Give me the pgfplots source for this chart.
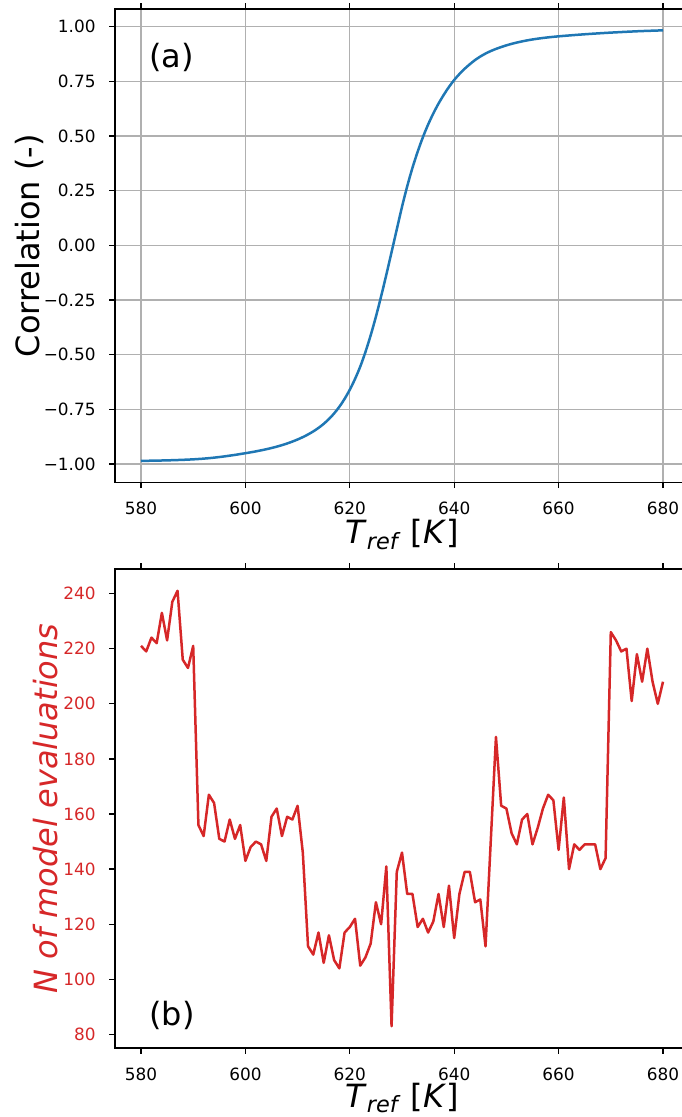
\documentclass[border=0pt]{standalone}
\usepackage{fontspec}
\setmainfont{DejaVu Sans}
\usepackage{pgfplots}
\pgfplotsset{compat=1.18}

\definecolor{tabblue}{HTML}{1F77B4}
\definecolor{tabred}{HTML}{D62728}
\definecolor{gridgray}{HTML}{B0B0B0}

% Correlation between the two responses versus the reference temperature
\pgfplotstableread{
T corr
580 -0.9851
582 -0.9843
584 -0.9833
586 -0.9820
588 -0.9803
590 -0.9780
592 -0.9748
594 -0.9703
596 -0.9645
598 -0.9577
600 -0.9500
601 -0.9460
602 -0.9417
603 -0.9370
604 -0.9319
605 -0.9263
606 -0.9201
607 -0.9132
608 -0.9055
609 -0.8969
610 -0.8873
611 -0.8765
612 -0.8643
613 -0.8504
614 -0.8344
615 -0.8158
616 -0.7940
617 -0.7682
618 -0.7377
619 -0.7017
620 -0.6597
621 -0.6107
622 -0.5542
623 -0.4872
624 -0.4112
625 -0.3262
626 -0.2332
627 -0.1342
628 -0.0312
629 0.0728
630 0.1758
631 0.2698
632 0.3538
633 0.4278
634 0.4938
635 0.5518
636 0.6028
637 0.6478
638 0.6878
639 0.7238
640 0.7558
641 0.7828
642 0.8068
643 0.8278
644 0.8468
645 0.8628
646 0.8763
647 0.8878
648 0.8976
649 0.9061
650 0.9139
651 0.9207
652 0.9267
653 0.9320
654 0.9367
655 0.9408
656 0.9444
657 0.9476
658 0.9504
659 0.9529
660 0.9551
662 0.9591
664 0.9628
666 0.9662
668 0.9693
670 0.9721
673 0.9759
676 0.9792
680 0.9825
}\corrtable

% Number of model evaluations needed at each reference temperature
\pgfplotstableread{
T n
580 221
581 219
582 224
583 222
584 233
585 223
586 237
587 241
588 216
589 213
590 221
591 156
592 152
593 167
594 164
595 151
596 150
597 158
598 151
599 156
600 143
601 148
602 150
603 149
604 143
605 159
606 162
607 152
608 159
609 158
610 163
611 146
612 112
613 109
614 117
615 106
616 116
617 107
618 104
619 117
620 119
621 122
622 105
623 108
624 113
625 128
626 120
627 141
628 83
629 139
630 146
631 131
632 131
633 119
634 122
635 117
636 121
637 131
638 119
639 134
640 115
641 131
642 139
643 139
644 128
645 129
646 112
647 150
648 188
649 163
650 162
651 153
652 149
653 158
654 160
655 149
656 155
657 162
658 167
659 165
660 147
661 166
662 140
663 149
664 147
665 149
666 149
667 149
668 140
669 144
670 226
671 223
672 219
673 220
674 201
675 218
676 208
677 220
678 208
679 200
680 208
}\evaltable

\newcommand{\Tref}{\textit{T}{\fontsize{22.4}{22.4}\selectfont\raisebox{-5.5pt}{\textit{ref}}}\ [\textit{K}]}

\pgfplotsset{
  panel/.style={
    scale only axis,
    width=574.2pt,
    xmin=575, xmax=685,
    xtick={580,600,620,640,660,680},
    xticklabels={580,600,620,640,660,680},
    tick align=outside,
    major tick length=5.8pt,
    every tick/.style={black, line width=1.33pt},
    axis line style={line width=1.33pt, black},
    tick label style={font=\fontsize{16.9}{20}\selectfont, inner sep=0pt},
    xticklabel style={anchor=north, yshift=-14pt},
    yticklabel style={anchor=east, xshift=-13.3pt},
    xlabel={\Tref},
    label style={font=\fontsize{32}{38}\selectfont, inner sep=0pt},
  }
}

\begin{document}
\begin{tikzpicture}
\useasboundingbox (0pt,0pt) rectangle (681pt,-1117pt);

% (a) correlation
\begin{axis}[
  panel,
  at={(114.9pt,-482.3pt)}, anchor=south west,
  height=473.3pt,
  ymin=-1.083, ymax=1.080,
  ytick={-1,-0.75,-0.5,-0.25,0,0.25,0.5,0.75,1},
  yticklabels={−1.00,−0.75,−0.50,−0.25,0.00,0.25,0.50,0.75,1.00},
  grid=major,
  major grid style={gridgray, line width=1.33pt},
  xlabel style={at={(axis description cs:0.5,-0.0782)}, anchor=north},
  ylabel={Correlation (-)},
  ylabel style={at={(axis description cs:-0.1237,0.5)}, anchor=south},
]
\addplot[tabblue, line width=2.5pt, smooth] table[x=T, y=corr] {\corrtable};
\node[anchor=base west, inner sep=0pt, font=\fontsize{32}{38}\selectfont]
  at (axis description cs:0.0594,0.8764) {(a)};
\end{axis}

% (b) number of model evaluations
\begin{axis}[
  panel,
  at={(114.9pt,-1048pt)}, anchor=south west,
  height=479pt,
  ymin=75.1, ymax=248.9,
  ytick={80,100,120,140,160,180,200,220,240},
  yticklabels={80,100,120,140,160,180,200,220,240},
  yticklabel style={text=tabred},
  xlabel style={at={(axis description cs:0.5,-0.0720)}, anchor=north},
  ylabel={\textit{N of model evaluations}},
  ylabel style={at={(axis description cs:-0.0984,0.5)}, anchor=south, text=tabred},
]
\addplot[tabred, line width=2.5pt, line join=round] table[x=T, y=n] {\evaltable};
\node[anchor=base west, inner sep=0pt, font=\fontsize{32}{38}\selectfont]
  at (axis description cs:0.0594,0.0463) {(b)};
\end{axis}
\end{tikzpicture}
\end{document}
